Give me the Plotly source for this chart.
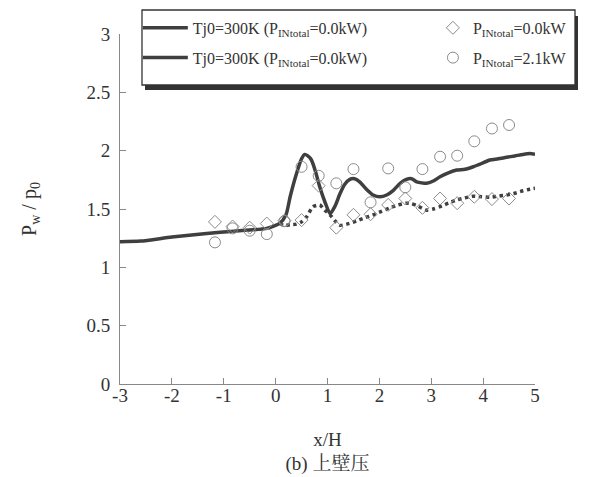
import plotly.graph_objects as go

# Solid line: Tj0=300K (upper curve)
line1_x = [-3.0, -2.6, -2.0, -1.33, -0.8, -0.17, 0.08, 0.2, 0.28, 0.40, 0.5, 0.56, 0.62, 0.69, 0.77, 0.85, 0.95, 1.05, 1.14, 1.24, 1.33, 1.43, 1.52, 1.62, 1.75, 1.88, 2.01, 2.14, 2.27, 2.4, 2.52, 2.62, 2.72, 2.91, 3.04, 3.17, 3.33, 3.49, 3.65, 3.81, 3.97, 4.13, 4.29, 4.45, 4.61, 4.77, 4.9, 5.0]
line1_y = [1.22, 1.225, 1.26, 1.29, 1.31, 1.334, 1.377, 1.45, 1.605, 1.80, 1.93, 1.968, 1.955, 1.92, 1.82, 1.69, 1.56, 1.46, 1.52, 1.63, 1.71, 1.754, 1.76, 1.733, 1.67, 1.62, 1.605, 1.62, 1.66, 1.72, 1.754, 1.76, 1.733, 1.72, 1.74, 1.776, 1.81, 1.834, 1.84, 1.862, 1.89, 1.92, 1.93, 1.943, 1.955, 1.968, 1.975, 1.97]

# Dotted line: Tj0=300K (lower curve)
line2_x = [0.08, 0.15, 0.28, 0.40, 0.5, 0.6, 0.72, 0.85, 0.95, 1.08, 1.16, 1.24, 1.37, 1.56, 1.72, 1.88, 2.04, 2.20, 2.36, 2.52, 2.62, 2.72, 2.91, 3.04, 3.17, 3.33, 3.49, 3.65, 3.81, 3.97, 4.13, 4.29, 4.45, 4.61, 4.77, 4.9, 5.0]
line2_y = [1.377, 1.36, 1.365, 1.37, 1.39, 1.434, 1.52, 1.534, 1.49, 1.434, 1.39, 1.36, 1.37, 1.397, 1.425, 1.45, 1.48, 1.51, 1.535, 1.55, 1.545, 1.53, 1.49, 1.50, 1.52, 1.55, 1.577, 1.595, 1.61, 1.605, 1.60, 1.61, 1.62, 1.635, 1.656, 1.67, 1.677]

# Experimental points
diamond_x = [-1.17, -0.83, -0.5, -0.17, 0.17, 0.5, 0.83, 1.17, 1.5, 1.83, 2.17, 2.5, 2.83, 3.17, 3.5, 3.83, 4.17, 4.5]
diamond_y = [1.39, 1.35, 1.34, 1.375, 1.40, 1.405, 1.70, 1.34, 1.45, 1.455, 1.535, 1.59, 1.51, 1.59, 1.55, 1.605, 1.585, 1.59]

circle_x = [-1.17, -0.83, -0.5, -0.17, 0.17, 0.5, 0.83, 1.17, 1.5, 1.83, 2.17, 2.5, 2.83, 3.17, 3.5, 3.83, 4.17, 4.5]
circle_y = [1.214, 1.334, 1.314, 1.285, 1.397, 1.862, 1.785, 1.72, 1.842, 1.557, 1.848, 1.686, 1.842, 1.948, 1.957, 2.08, 2.19, 2.22]

x_ticks = [-3, -2, -1, 0, 1, 2, 3, 4, 5]
x_tick_text = ["-3", "-2", "-1", "0", "1", "2", "3", "4", "5"]
y_ticks = [0, 0.5, 1, 1.5, 2, 2.5, 3]
y_tick_text = ["0", "0.5", "1", "1.5", "2", "2.5", "3"]

SERIF = "Liberation Serif, Times New Roman, Noto Serif CJK SC, Noto Sans CJK SC, serif"
DARK = "#3f3f3f"
MARK = "#8a8a8a"
LINE_NAME = "Tj0=300K (P<sub>INtotal</sub>=0.0kW)"

fig = go.Figure()
fig.add_trace(go.Scatter(
    x=line1_x, y=line1_y, mode="lines", line=dict(color=DARK, width=3.5, shape="spline", smoothing=0.6),
    name=LINE_NAME, legend="legend", legendgroup="a"))
fig.add_trace(go.Scatter(
    x=line2_x, y=line2_y, mode="lines", line=dict(color=DARK, width=3.5, dash="dot", shape="spline", smoothing=0.6),
    name=LINE_NAME, showlegend=False, legendgroup="b"))
# legend entry for the second curve (drawn solid in the reference legend)
fig.add_trace(go.Scatter(
    x=[None], y=[None], mode="lines", line=dict(color=DARK, width=3.5),
    name=LINE_NAME, legend="legend", legendgroup="b"))
fig.add_trace(go.Scatter(
    x=diamond_x, y=diamond_y, mode="markers",
    marker=dict(symbol="diamond-open", size=10, color=MARK, line=dict(width=1)),
    name="P<sub>INtotal</sub>=0.0kW", legend="legend2", legendgroup="c"))
fig.add_trace(go.Scatter(
    x=circle_x, y=circle_y, mode="markers",
    marker=dict(symbol="circle-open", size=11, color=MARK, line=dict(width=1)),
    name="P<sub>INtotal</sub>=2.1kW", legend="legend2", legendgroup="d"))

# legend box with shadow, in pixel offsets from the plot area's top-left corner
fig.add_shape(type="rect", xref="x domain", yref="y domain", xsizemode="pixel", ysizemode="pixel",
              xanchor=0, yanchor=1,
              x0=25, x1=458, y0=18, y1=-56,
              fillcolor="#333", line=dict(width=0), layer="above")
fig.add_shape(type="rect", xref="x domain", yref="y domain", xsizemode="pixel", ysizemode="pixel",
              xanchor=0, yanchor=1,
              x0=22, x1=455, y0=24, y1=-51,
              fillcolor="white", line=dict(color="#333", width=1.3), layer="above")

leg_common = dict(
    orientation="v", yanchor="top", xanchor="left",
    bgcolor="rgba(0,0,0,0)", borderwidth=0,
    font=dict(family=SERIF, size=16, color="#333"),
    traceorder="grouped", tracegroupgap=6,
)

fig.update_layout(
    width=590, height=477,
    margin=dict(l=112, r=63, t=26, b=101, autoexpand=False),
    paper_bgcolor="white", plot_bgcolor="white",
    font=dict(family=SERIF, color="#333", size=18),
    showlegend=True,
    legend=dict(x=0.043, y=1.066, itemwidth=45, **leg_common),
    legend2=dict(x=0.754, y=1.066, itemwidth=30, **leg_common),
    xaxis=dict(
        range=[-3, 5], tickvals=x_ticks, ticktext=x_tick_text, ticks="inside", ticklen=6, tickcolor="#888",
        showline=True, linecolor="#888", linewidth=1, showgrid=False, zeroline=False,
        tickfont=dict(size=19), ticklabelstandoff=-6,
        title=dict(text="x/H<br>(b) 上壁压", font=dict(size=19), standoff=27),
    ),
    yaxis=dict(
        range=[0, 3], tickvals=y_ticks, ticktext=y_tick_text, ticks="inside", ticklen=6, tickcolor="#888",
        showline=True, linecolor="#888", linewidth=1, showgrid=False, zeroline=False,
        tickfont=dict(size=19), ticklabelstandoff=5,
        title=dict(text="P<sub>w</sub> / p<sub>0</sub>", font=dict(size=20), standoff=44),
    ),
)

fig.write_html("out.html")
